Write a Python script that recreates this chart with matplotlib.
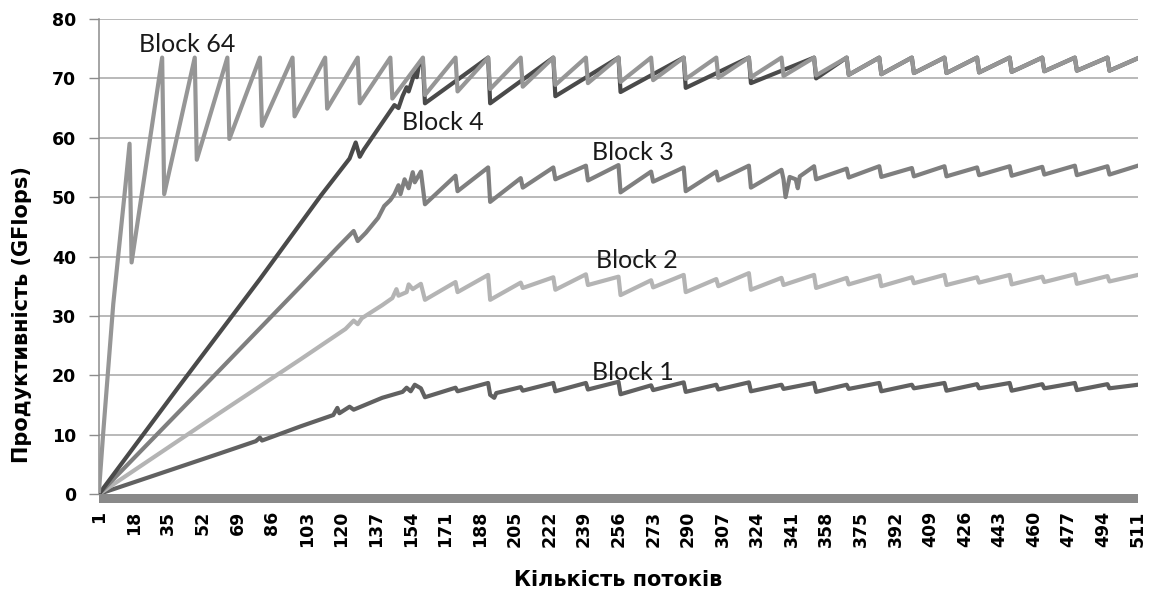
import matplotlib
matplotlib.use("Agg")
import matplotlib.pyplot as plt
from matplotlib.patches import Rectangle

# ---- data (vertices) ----
b64_x = [1, 3, 8, 11, 14, 16, 17, 32, 33, 48, 49, 64, 65, 80, 81, 96, 97, 112, 113,
         128, 129, 144, 145, 160, 161, 176, 177, 192, 193, 208, 209, 224, 225, 240, 241,
         256, 257, 272, 273, 288, 289, 304, 305, 320, 321, 336, 337, 352, 353, 368, 369,
         384, 385, 400, 401, 416, 417, 432, 433, 448, 449, 464, 465, 480, 481, 496, 497, 511]
b64_y = [0.5, 10, 32, 42, 52, 59, 39, 73.5, 50.5, 73.5, 56.3, 73.5, 59.8, 73.5, 62.0, 73.5, 63.6, 73.5, 64.9,
         73.5, 65.8, 73.5, 66.6, 73.5, 67.2, 73.5, 67.8, 73.5, 68.2, 73.5, 68.6, 73.5, 68.9, 73.5, 69.2,
         73.5, 69.4, 73.5, 69.7, 73.5, 69.9, 73.5, 70.1, 73.5, 70.2, 73.5, 70.4, 73.5, 70.5, 73.5, 70.6,
         73.5, 70.7, 73.5, 70.9, 73.5, 70.9, 73.5, 71.0, 73.5, 71.1, 73.5, 71.2, 73.5, 71.3, 73.5, 71.3, 73.4]

b4_x = [1, 40, 80, 110, 124, 127, 129, 131, 140, 146, 148, 150, 152, 153, 156, 157, 158, 160, 161,
        192, 193, 224, 225, 256, 257, 288, 289, 320, 321, 352, 353, 368, 369,
        384, 385, 400, 401, 416, 417, 432, 433, 448, 449, 464, 465, 480, 481, 496, 497, 511]
b4_y = [0, 18.0, 36.2, 50.3, 56.5, 59.2, 56.8, 58.0, 62.5, 65.5, 65.0, 67.0, 68.5, 67.8, 71.0, 70.2, 72.2, 72.5, 65.8,
        73.5, 65.8, 73.5, 67.0, 73.5, 67.7, 73.5, 68.4, 73.5, 69.2, 73.5, 70.0, 73.5, 70.6,
        73.5, 70.7, 73.5, 70.9, 73.5, 70.9, 73.5, 71.0, 73.5, 71.1, 73.5, 71.2, 73.5, 71.3, 73.5, 71.3, 73.4]

b3_x = [1, 60, 100, 118, 126, 128, 132, 138, 141, 144, 146, 148, 149, 151, 153, 155, 156, 159, 161,
        176, 177, 192, 193, 208, 209, 224, 225, 240, 241, 256, 257, 272, 273, 288, 289, 304, 305,
        320, 321, 336, 337, 338, 340, 343, 344, 345, 352, 353, 368, 369, 384, 385, 400, 401,
        416, 417, 432, 433, 448, 449, 464, 465, 480, 481, 496, 497, 511]
b3_y = [0, 20.8, 35.0, 41.5, 44.3, 42.6, 44.0, 46.5, 48.5, 49.5, 50.5, 52.0, 50.5, 53.0, 51.5, 54.2, 52.5, 54.3, 48.8,
        53.6, 51.0, 55.0, 49.2, 53.2, 51.6, 55.0, 53.0, 55.3, 52.8, 55.4, 50.8, 54.3, 52.6, 55.0, 51.0, 54.3, 52.8,
        55.3, 51.6, 54.6, 53.0, 50.0, 53.4, 53.0, 51.5, 53.5, 55.2, 53.0, 54.8, 53.3, 55.2, 53.4, 54.9, 53.5,
        55.2, 53.5, 55.0, 53.7, 55.2, 53.6, 55.1, 53.8, 55.3, 53.7, 55.2, 53.8, 55.3]

b2_x = [1, 60, 100, 122, 126, 128, 130, 140, 145, 147, 148, 152, 153, 155, 159, 161,
        176, 177, 192, 193, 208, 209, 224, 225, 240, 241, 256, 257, 272, 273, 288, 289, 304, 305,
        320, 321, 336, 337, 352, 353, 368, 369, 384, 385, 400, 401, 416, 417, 432, 433,
        448, 449, 464, 465, 480, 481, 496, 497, 511]
b2_y = [0, 13.6, 22.7, 27.8, 29.2, 28.6, 29.6, 31.8, 33.0, 34.5, 33.4, 34.0, 35.3, 34.5, 35.4, 32.7,
        35.7, 34.0, 36.9, 32.7, 35.6, 34.7, 36.5, 34.4, 37.0, 35.2, 36.6, 33.5, 36.0, 34.8, 36.9, 34.0, 36.2, 35.0,
        37.2, 34.4, 36.4, 35.2, 36.9, 34.7, 36.4, 35.3, 36.8, 35.0, 36.5, 35.5, 36.9, 35.2, 36.5, 35.6,
        36.9, 35.3, 36.6, 35.7, 37.0, 35.4, 36.7, 35.8, 36.9]

b1_x = [1, 60, 78, 80, 81, 100, 116, 118, 119, 124, 126, 140, 150, 152, 154, 156, 159, 161,
        176, 177, 192, 193, 195, 196, 208, 209, 224, 225, 240, 241, 256, 257, 272, 273, 288, 289,
        304, 305, 320, 321, 336, 337, 352, 353, 368, 369, 384, 385, 400, 401, 416, 417, 432, 433,
        448, 449, 464, 465, 480, 481, 496, 497, 511]
b1_y = [0, 6.8, 8.9, 9.5, 9.0, 11.4, 13.3, 14.5, 13.6, 14.7, 14.2, 16.2, 17.2, 17.9, 17.3, 18.4, 17.8, 16.3,
        17.9, 17.3, 18.7, 16.7, 16.2, 17.0, 18.0, 17.4, 18.7, 17.3, 18.7, 17.6, 18.9, 16.8, 18.3, 17.5, 18.8, 17.2,
        18.4, 17.6, 18.8, 17.3, 18.4, 17.7, 18.7, 17.2, 18.4, 17.7, 18.7, 17.3, 18.4, 17.8, 18.7, 17.4, 18.5, 17.8,
        18.7, 17.4, 18.5, 17.8, 18.7, 17.5, 18.5, 17.8, 18.4]

x_ticks = list(range(1, 512, 17))
y_ticks = [0, 10, 20, 30, 40, 50, 60, 70, 80]

series_labels = ["Block 1", "Block 2", "Block 3", "Block 4", "Block 64"]
label_pos = {"Block 64": (44.2, 74.4), "Block 4": (169.9, 61.3), "Block 3": (263.1, 56.25),
             "Block 2": (265.1, 38.1), "Block 1": (263.1, 19.2)}

# ---- figure ----
W, H = 1152, 593
fig = plt.figure(figsize=(W / 100, H / 100), dpi=100)
ax = fig.add_axes([99 / W, 1 - 494 / H, (1138 - 99) / W, (494 - 19) / H])

lw = 3.0
ax.plot(b1_x, b1_y, color="#616161", lw=lw, solid_joinstyle="round", zorder=3)
ax.plot(b2_x, b2_y, color="#b4b4b4", lw=lw, solid_joinstyle="round", zorder=3)
ax.plot(b3_x, b3_y, color="#7f7f7f", lw=lw, solid_joinstyle="round", zorder=3)
ax.plot(b4_x, b4_y, color="#4a4a4a", lw=lw, solid_joinstyle="round", zorder=3)
ax.plot(b64_x, b64_y, color="#969696", lw=lw, solid_joinstyle="round", zorder=3)

ax.set_xlim(1, 511)
ax.set_ylim(0, 80)
ax.set_yticks(y_ticks)
ax.set_xticks(x_ticks)
ax.set_xticklabels([str(t) for t in x_ticks], rotation=90, fontsize=12.5,
                   fontweight="bold", family="DejaVu Sans")
ax.set_yticklabels([str(t) for t in y_ticks], fontsize=12.5, fontweight="bold",
                   family="DejaVu Sans")
ax.tick_params(axis="y", length=7, width=1, color="#8c8c8c", pad=9.5)
ax.tick_params(axis="x", length=0, pad=12)

for v in y_ticks[1:]:
    ax.axhline(v, color="#a6a6a6", lw=1.1, zorder=1)

for s in ["top", "right", "bottom"]:
    ax.spines[s].set_visible(False)
ax.spines["left"].set_color("#8c8c8c")
ax.spines["left"].set_linewidth(1.1)

# thick grey horizontal axis band
ax.add_patch(Rectangle((0, -9 / 475), 1, 9 / 475, transform=ax.transAxes,
                       facecolor="#898989", edgecolor="none", clip_on=False, zorder=2))

for name in series_labels:
    x, y = label_pos[name]
    ax.text(x, y, name, fontsize=18, family="Lato", ha="center", va="baseline",
            color="#1a1a1a", zorder=4)

fig.text(22 / W, 1 - 315 / H, "Продуктивність (GFlops)", rotation=90, fontsize=15,
         fontweight="bold", family="DejaVu Sans", ha="center", va="center")
fig.text(618 / W, 1 - 580 / H, "Кількість потоків", fontsize=15, fontweight="bold",
         family="DejaVu Sans", ha="center", va="center")

fig.savefig("out.png", dpi=100)
